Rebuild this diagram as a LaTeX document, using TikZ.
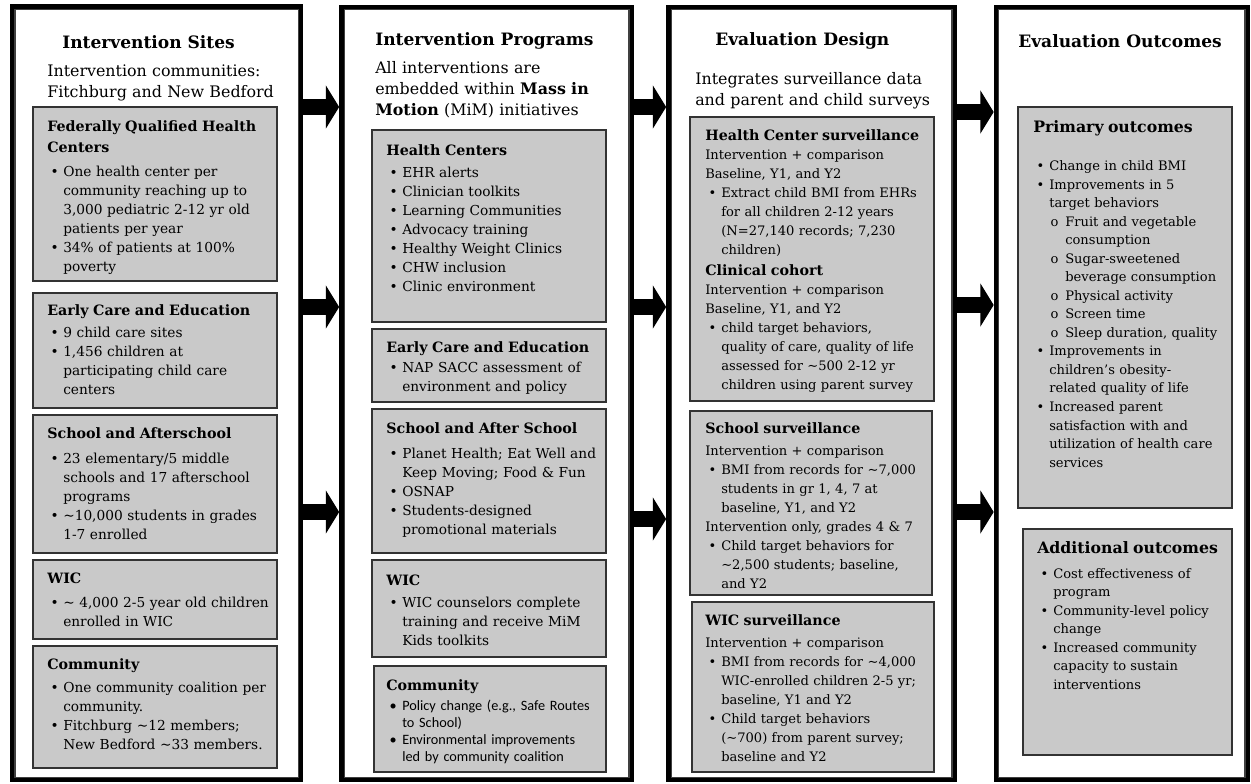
\documentclass[tikz,border=0pt]{standalone}
\usepackage{fontspec}
\setmainfont{DejaVu Serif}
\newfontfamily\calfont{Carlito}
\usetikzlibrary{arrows.meta,positioning}

\newlength\bulind
\setlength\bulind{12pt}
\newcommand{\hd}[1]{{\bfseries\fontsize{10.7pt}{16pt}\selectfont #1\par}}
\newcommand{\bul}[1]{\par\hangindent=\bulind\hangafter=1\noindent\makebox[\bulind][l]{\hspace{2.5pt}\textbullet}{\let\\\newline #1}\par}
\newcommand{\sbul}[1]{\par\hangindent=2\bulind\hangafter=1\noindent\hspace*{\bulind}\makebox[\bulind][l]{\hspace{1pt}o}{\let\\\newline #1}\par}
\newcommand{\pl}[1]{\par\noindent #1\par}
\newcommand{\tl}{\textasciitilde}

\begin{document}
\begin{tikzpicture}[x=0.75pt,y=-0.75pt,
    frame/.style={draw,line width=3.5pt,inner sep=0pt},
    inner/.style={draw=black!75,line width=1pt},
    panel/.style={draw=black!80,fill=black!21,line width=1.2pt},
    title/.style={anchor=base west,inner sep=0pt,font=\bfseries\fontsize{12.8pt}{16pt}\selectfont},
    intro/.style={anchor=base west,inner sep=0pt,text width=200pt,align=left,font=\fontsize{11.9pt}{15.75pt}\selectfont},
    txt/.style={anchor=base west,inner sep=0pt,text width=200pt,align=left,font=\fontsize{10.3pt}{14.25pt}\selectfont},
    small/.style={txt,font=\fontsize{9.8pt}{14.25pt}\selectfont},
    outtxt/.style={txt,font=\fontsize{9.8pt}{13.9pt}\selectfont},
    tiny/.style={txt,font=\calfont\fontsize{10.7pt}{12.75pt}\selectfont},
    flow/.style={line width=12pt,-{Triangle[length=10pt,width=32pt]}}]
\useasboundingbox (0,0) rectangle (1251,783);

\node[frame,minimum width=216.4pt,minimum height=580.1pt] (sites) at (156.75,393.25) {};
\node[frame,minimum width=217.5pt,minimum height=579.75pt] (programs) at (486.5,393.5) {};
\node[frame,minimum width=214.5pt,minimum height=579.75pt] (design) at (811.5,393.5) {};
\node[frame,minimum width=188.6pt,minimum height=579.75pt] (outcomes) at (1121.75,393.5) {};
\foreach \f in {sites,programs,design,outcomes}
    \draw[inner] ([shift={(5,5)}]\f.north west) rectangle ([shift={(-5,-5)}]\f.south east);

\coordinate (r1) at (0,107);
\coordinate (r2) at (0,307);
\coordinate (r3) at (0,512);
\coordinate (r4) at (0,519);
\coordinate (r5) at (0,112);
\coordinate (r6) at (0,305);
\draw[flow] (sites.east |- r1) -- (programs.west |- r1);
\draw[flow] (sites.east |- r2) -- (programs.west |- r2);
\draw[flow] (sites.east |- r3) -- (programs.west |- r3);
\draw[flow] (programs.east |- r1) -- (design.west |- r1);
\draw[flow] (programs.east |- r2) -- (design.west |- r2);
\draw[flow] (programs.east |- r4) -- (design.west |- r4);
\draw[flow] (design.east |- r5) -- (outcomes.west |- r5);
\draw[flow] (design.east |- r6) -- (outcomes.west |- r6);
\draw[flow] (design.east |- r3) -- (outcomes.west |- r3);

\node[title] (sitesT) at (62,48) {Intervention Sites};
\node[intro] (sitesI) at (47,76) {Intervention communities:\\Fitchburg and New Bedford};
\draw[panel] (33,107) rectangle (277,281);
\node[txt] (fqhc) at (47,131) {\hd{Federally Qualified Health\\Centers}\vspace{3.75pt}
    \bul{One  health center per\\community reaching up to\\3,000 pediatric 2-12 yr old\\patients per year}
    \bul{34\% of patients at 100\%\\poverty}};
\draw[panel] (33,293) rectangle (277,408);
\node[txt] (siteEce) at (47,315) {\hd{Early Care and Education}\vspace{2.25pt}
    \bul{9 child care sites}
    \bul{1,456 children at\\participating child care\\centers}};
\draw[panel] (33,415) rectangle (277,553);
\node[txt] (siteSch) at (47,438) {\hd{School and Afterschool}\vspace{4.5pt}
    \bul{23 elementary/5 middle\\schools and 17 afterschool\\programs}
    \bul{\tl10,000 students in grades\\1-7 enrolled}};
\draw[panel] (33,560) rectangle (277,639);
\node[txt] (siteWic) at (47,583) {\hd{WIC}\vspace{3.75pt}
    \bul{\tl{} 4,000 2-5 year old children\\enrolled in WIC}};
\draw[panel] (33,646) rectangle (277,768);
\node[txt] (siteCom) at (47,669) {\hd{Community}\vspace{3pt}
    \bul{One community coalition per\\community.}
    \bul{Fitchburg \tl12 members;\\New Bedford \tl33 members.}};

\node[title] (progT) at (375,45) {Intervention Programs};
\node[intro] (progI) at (375,73) {All interventions are\\embedded within \textbf{Mass in}\\\textbf{Motion} (MiM) initiatives};
\draw[panel] (372,130) rectangle (606,322);
\node[txt] (progHc) at (386,155) {\hd{Health Centers}\vspace{2.25pt}
    \bul{EHR alerts}\bul{Clinician toolkits}\bul{Learning Communities}
    \bul{Advocacy training}\bul{Healthy Weight Clinics}\bul{CHW inclusion}
    \bul{Clinic environment}};
\draw[panel] (372,329) rectangle (606,402);
\node[txt] (progEce) at (386,352) {\hd{Early Care and Education}\vspace{0.75pt}
    \bul{NAP SACC assessment of\\environment and policy}};
\draw[panel] (372,409) rectangle (606,553);
\node[txt] (progSch) at (386,433) {\hd{School and After School}\vspace{4.5pt}
    \bul{Planet Health; Eat Well and\\Keep Moving; Food \& Fun}
    \bul{OSNAP}
    \bul{Students-designed\\promotional materials}};
\draw[panel] (372,560) rectangle (606,657);
\node[txt] (progWic) at (386,585) {\hd{WIC}\vspace{2.25pt}
    \bul{WIC counselors complete\\training and receive MiM\\Kids toolkits}};
\draw[panel] (374,666) rectangle (606,772);
\node[tiny] (progCom) at (386,690) {{\rmfamily\hd{Community}}\vspace{2.25pt}
    \bul{Policy change (e.g., Safe Routes\\to School)}
    \bul{Environmental improvements\\led by community coalition}};

\node[title] (desT) at (715,45) {Evaluation Design};
\node[intro] (desI) at (695,84) {Integrates surveillance data\\and parent and child surveys};
\draw[panel] (690,117) rectangle (934,401);
\node[small] (desHc) at (705,140) {\hd{Health Center surveillance}
    \pl{Intervention + comparison}\pl{Baseline, Y1, and Y2}
    \bul{Extract child BMI from EHRs\\for all children 2-12 years\\(N=27,140 records; 7,230\\children)}
    \hd{Clinical cohort}
    \pl{Intervention + comparison}\pl{Baseline, Y1, and Y2}
    \bul{child  target behaviors,\\quality of care, quality of life\\assessed for \tl500 2-12 yr\\children using parent survey}};
\draw[panel] (690,411) rectangle (932,595);
\node[small] (desSch) at (705,433) {\hd{School surveillance}\vspace{2.25pt}
    \pl{Intervention + comparison}
    \bul{BMI from records for \tl7,000\\students in gr 1, 4, 7 at\\baseline, Y1, and Y2}
    \pl{Intervention only, grades 4 \& 7}
    \bul{Child target behaviors for\\\tl2,500 students; baseline,\\and Y2}};
\draw[panel] (692,602) rectangle (934,772);
\node[small] (desWic) at (705,625) {\hd{WIC surveillance}\vspace{2.25pt}
    \pl{Intervention + comparison}
    \bul{BMI from records for \tl4,000\\WIC-enrolled children 2-5 yr;\\baseline, Y1 and Y2}
    \bul{Child target behaviors\\(\tl700) from parent survey;\\baseline and Y2}};

\node[title] (outT) at (1018,47) {Evaluation Outcomes};
\draw[panel] (1018,107) rectangle (1232,508);
\node[outtxt] (outPri) at (1033,132) {{\bfseries\fontsize{11.8pt}{16pt}\selectfont Primary outcomes\par}\vspace{15pt}
    \bul{Change in child BMI}
    \bul{Improvements in 5\\target behaviors}
    \sbul{Fruit and vegetable\\consumption}
    \sbul{Sugar-sweetened\\beverage consumption}
    \sbul{Physical activity}
    \sbul{Screen time}
    \sbul{Sleep duration, quality}
    \bul{Improvements in\\children's obesity-\\related quality of life}
    \bul{Increased parent\\satisfaction with and\\utilization of health care\\services}};
\draw[panel] (1023,529) rectangle (1232,755);
\node[outtxt] (outAdd) at (1037,553) {{\bfseries\fontsize{11.8pt}{16pt}\selectfont Additional outcomes\par}\vspace{5pt}
    \bul{Cost effectiveness of\\program}
    \bul{Community-level policy\\change}
    \bul{Increased community\\capacity to sustain\\interventions}};
\end{tikzpicture}
\end{document}
